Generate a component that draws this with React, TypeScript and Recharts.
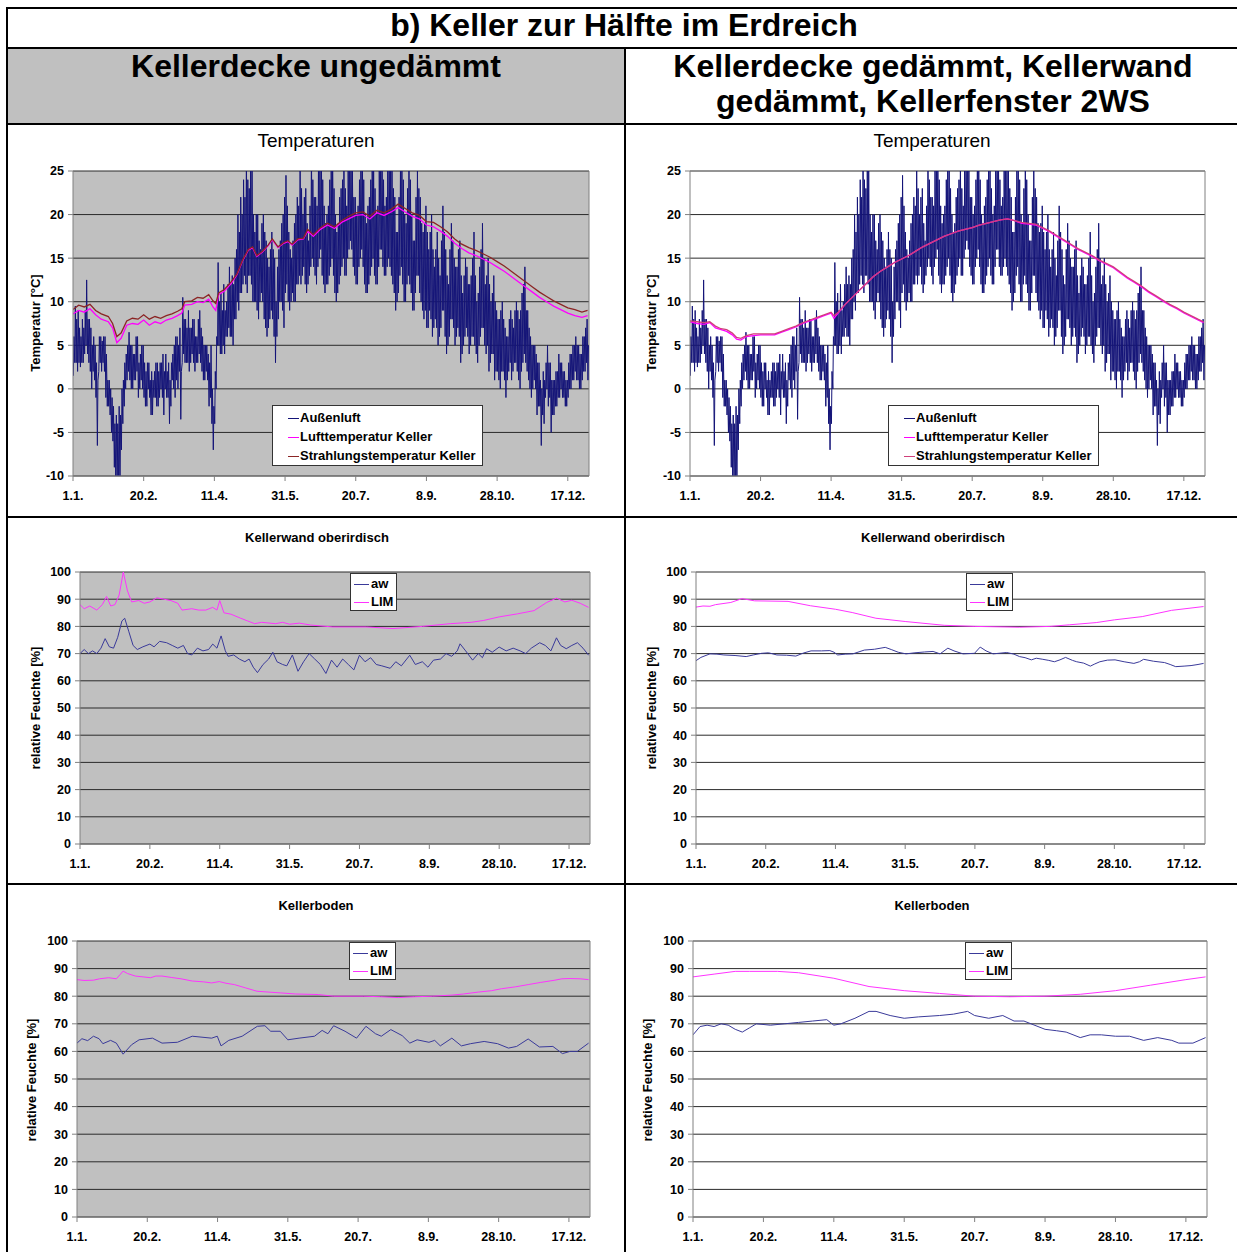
import React from 'react';
import { LineChart, Line, XAxis, YAxis, CartesianGrid, ReferenceLine } from 'recharts';

// ---------- tick labels ----------
const X_TICKS = [0, 50, 100, 150, 200, 250, 300, 350];
const X_LABELS = ['1.1.', '20.2.', '11.4.', '31.5.', '20.7.', '8.9.', '28.10.', '17.12.'];
const T_TICKS = [-10, -5, 0, 5, 10, 15, 20, 25];
const RH_TICKS = [0, 10, 20, 30, 40, 50, 60, 70, 80, 90, 100];

// ---------- outdoor air temperature: daily minimum / maximum (day 0 = 1.1.) ----------
const AUSSEN_MIN = [
  1.5, 3, 3, 2, 3, 2.5, 3, 3, 4, 5,
  4, 3, 2, 0, 2, 1, -1, -6.5, 2, 3,
  2, 3, 2, -1, -2, -2, -3, -5, -6, -9,
  -10, -12, -11, -12, -7, -4, -2, 0, 1, 2,
  1, 0, 0, 1, 1, 2, -1, 0, 1, 0,
  -1, -2, -2, 0, -1, -3, -3, -1, -1, -2,
  -2, -1, 0, -1, -3, 0, -1, -1, -4, -2,
  1, 0, -1, 1, 0, 2, -3.5, 3, 4, 3,
  3, 3, 2, 3, 4, 3, 2, 3, 3, 4,
  3, 2, 1, 1, 2, 1, -2, -1, -4, -7,
  -4, 0, 5, 5, 4, 4, 5, 4, 6, 6,
  7, 6, 6, 5, 8, 8, 10, 9, 11, 11,
  12, 13, 12, 11, 13, 13, 12, 10, 10, 10,
  9, 8, 10, 11, 10, 8, 7, 6, 7, 8,
  9, 8, 6, 3, 6, 8, 10, 10, 9, 7,
  11, 12, 10, 9, 10, 11, 10, 10, 12, 12,
  13, 12, 13, 14, 12, 11, 12, 13, 14, 15,
  14, 13, 12, 14, 15, 16, 13, 12, 11, 12,
  12, 13, 14, 15, 13, 11, 10, 11, 12, 13,
  14, 15, 13, 13, 15, 16, 17, 16, 14, 13,
  12, 12, 14, 15, 16, 14, 12, 11, 11, 12,
  13, 14, 15, 13, 12, 12, 14, 16, 16, 14,
  13, 13, 14, 15, 14, 13, 12, 11, 9, 10,
  11, 13, 14, 12, 10, 10, 12, 13, 12, 11,
  9, 9, 11, 13, 13, 11, 10, 9, 8, 9,
  7, 7, 9, 8, 6, 7, 8, 7, 5, 6,
  7, 9, 9, 6, 4, 5, 6, 8, 8, 7,
  5, 6, 7, 6, 3, 4, 5, 6, 7, 6,
  4, 5, 6, 6, 5, 4, 3, 5, 6, 7,
  7, 5, 4, 5, 2, 3, 4, 4, 1, 2,
  2, 1, 0, 2, 2, 1, -1, 1, 2, 3,
  1, 2, 3, 3, 2, 1, 0, 2, 3, 4,
  3, 2, 1, 0, -1, 0, 1, 0, -3, -2,
  -2, -6.5, -3, -4, -1, 0, -2, -1, -5, -3,
  -3, -2, -2, -1, -1, 0, -1, -1, -2, -2,
  -1, 0, 0, 1, 1, 2, 1, 1, 0, 0,
  1, 2, 2, 3, 1,
];
const AUSSEN_MAX = [
  6, 9.5, 8, 9, 7, 6, 8, 7, 9, 12.5,
  8, 8, 7, 5, 6, 5, 3, 1, 6, 6,
  5.5, 6, 6, 4, 1, 1, 0, -1, -2, -4,
  -3, -4, -2, -3, 0, 1, 3, 4, 5, 6.5,
  5, 5, 4, 4, 6, 6, 3, 4, 5, 5,
  3, 2, 3, 3, 1, 2, 1, 2, 3, 3,
  2, 3, 3, 4, 2, 4, 2, 3, 1, 3,
  4, 5, 6, 6, 5, 7, 2, 10.5, 8, 8,
  7, 9, 7, 7, 8, 8, 6, 6, 8, 9,
  7, 6, 5, 5, 5, 4, 3, 5, 0, -2,
  2, 6, 14.5, 10, 11, 9, 12, 9, 10, 12,
  14, 12, 13, 12, 15, 16, 20, 18, 22, 20,
  24, 22, 27, 24, 23, 25, 26, 20, 18, 20,
  20, 17, 16, 19, 20, 18, 17, 15, 14, 16,
  18, 16, 15, 10, 14, 16, 17, 19, 20, 22,
  24.5, 21, 18, 16, 15, 17, 19, 20, 22, 21,
  26, 23, 20, 22, 23, 19, 17, 21, 27, 24,
  22, 22, 21, 26, 25, 28, 24, 21, 19, 20,
  21, 24, 25, 27, 23, 20, 18, 19, 22, 23,
  24, 26, 23, 21, 25, 28, 27, 25, 22, 22,
  20, 21, 24, 27, 26, 24, 20, 19, 21, 22,
  24, 26, 25, 23, 20, 21, 25, 28, 26, 24,
  21, 22, 25, 27, 26, 25, 23, 22, 18, 18,
  22, 26, 25, 24, 20, 19, 23, 27, 24, 20,
  17, 17, 22, 25, 23, 22, 19, 18, 19, 21,
  18, 16, 18, 20, 16, 14, 16, 18, 15, 13,
  17, 21, 18, 16, 13, 12, 16, 19, 17, 15,
  14, 14, 16, 17, 13, 11, 13, 15, 14, 12,
  12, 13, 15, 18, 13, 10, 11, 14, 16, 19,
  15, 12, 13, 15, 12, 10, 11, 13, 10, 9,
  8, 8, 9, 10, 8, 7, 6, 6, 8, 9,
  8, 7, 9, 10, 9, 8, 9, 11, 12, 14,
  9, 9, 7, 6, 5, 5, 5, 4, 3, 3,
  1, 0, 2, 1, 3, 5, 3, 3, 1, 1,
  1, 2, 2, 4, 3, 3, 2, 2, 1, 1,
  3, 4, 4, 5, 5, 6, 5, 5, 4, 4,
  6, 6, 7, 8, 5,
];

// ---------- Kellerdecke ungedämmt: cellar temperatures [day, °C] ----------
const UNG_LUFT: [number, number][] = [
  [0, 8.6], [4, 9], [8, 8.8], [12, 9.2], [16, 8.5], [20, 8], [25, 7.7], [28, 7], [31, 5.3], [34, 5.8],
  [38, 7.3], [42, 7.5], [46, 7.4], [50, 7.9], [54, 7.3], [58, 7.7], [62, 7.5], [66, 7.9], [70, 8.1], [74, 8.4],
  [77, 8.7], [79, 9.6], [84, 9.7], [88, 10], [92, 9.9], [96, 10.3], [99, 9.4], [101, 9], [103, 10.8], [107, 11.2],
  [112, 12.1], [116, 13.1], [120, 14.7], [124, 15.9], [127, 16.2], [130, 15.2], [134, 15.7], [138, 16.4], [141, 17.1], [145, 16.2],
  [149, 16.7], [152, 16.9], [155, 16.5], [159, 17.1], [163, 17.2], [166, 18.1], [170, 17.5], [175, 18.3], [180, 18.8], [185, 18.4],
  [190, 19.1], [195, 19.5], [200, 19.9], [205, 20], [210, 19.5], [215, 20.2], [220, 19.9], [225, 20.3], [230, 20.8], [235, 20.3],
  [240, 19.8], [245, 19.5], [250, 18.8], [255, 18.6], [260, 18.1], [265, 17.5], [270, 16.7], [275, 16.1], [280, 15.6], [285, 15.3],
  [290, 14.9], [295, 14.5], [300, 14], [305, 13.5], [310, 12.9], [315, 12.3], [320, 11.7], [325, 11.1], [330, 10.5], [335, 10],
  [340, 9.5], [345, 9.1], [350, 8.7], [355, 8.4], [360, 8.2], [364, 8.4],
];
const UNG_STRAHL: [number, number][] = [
  [0, 9.1], [4, 9.6], [8, 9.4], [12, 9.7], [16, 9], [20, 8.6], [25, 8.3], [28, 7.5], [31, 6], [34, 6.4],
  [38, 7.8], [42, 8.1], [46, 8], [50, 8.5], [54, 8], [58, 8.3], [62, 8.1], [66, 8.4], [70, 8.6], [74, 8.9],
  [77, 9.2], [79, 10], [84, 10.1], [88, 10.5], [92, 10.4], [96, 10.8], [99, 10.1], [101, 9.8], [103, 11], [107, 11.4],
  [112, 12.3], [116, 13.2], [120, 14.8], [124, 16], [127, 16.3], [130, 15.3], [134, 15.8], [138, 16.5], [141, 17.2], [145, 16.3],
  [149, 16.8], [152, 17], [155, 16.6], [159, 17.2], [163, 17.3], [166, 18.3], [170, 17.7], [175, 18.5], [180, 19], [185, 18.6],
  [190, 19.3], [195, 19.8], [200, 20.2], [205, 20.3], [210, 19.8], [215, 20.5], [220, 20.2], [225, 20.6], [230, 21.2], [235, 20.7],
  [240, 20.2], [245, 19.9], [250, 19.2], [255, 19.1], [260, 18.6], [265, 18], [270, 17.2], [275, 16.6], [280, 16.2], [285, 15.9],
  [290, 15.5], [295, 15.1], [300, 14.6], [305, 14.1], [310, 13.5], [315, 12.9], [320, 12.3], [325, 11.7], [330, 11.1], [335, 10.6],
  [340, 10.1], [345, 9.7], [350, 9.3], [355, 9.1], [360, 8.8], [364, 9],
];

// ---------- gedämmt: cellar temperatures [day, °C] ----------
const GED_LUFT: [number, number][] = [
  [0, 7.7], [5, 7.5], [10, 7.4], [14, 7.6], [18, 7], [22, 6.8], [26, 6.6], [30, 6.2], [33, 5.7], [36, 5.6],
  [40, 6], [45, 6.1], [50, 6.2], [55, 6.2], [60, 6.2], [65, 6.5], [70, 6.8], [75, 7.1], [80, 7.5], [85, 7.8],
  [90, 8.1], [95, 8.4], [100, 8.7], [102, 8.1], [105, 8.7], [110, 9.7], [115, 10.5], [120, 11.3], [125, 12.1], [130, 12.9],
  [135, 13.5], [140, 14], [145, 14.5], [150, 14.9], [155, 15.3], [160, 15.8], [165, 16.3], [170, 16.7], [175, 17.1], [180, 17.5],
  [185, 17.8], [190, 18.1], [195, 18.3], [200, 18.5], [205, 18.8], [210, 19], [215, 19.2], [220, 19.4], [225, 19.5], [230, 19.3],
  [235, 19], [240, 18.9], [245, 18.8], [250, 18.4], [255, 18], [260, 17.5], [265, 17], [270, 16.5], [275, 16], [280, 15.6],
  [285, 15.2], [290, 14.7], [295, 14.3], [300, 13.9], [305, 13.3], [310, 12.7], [315, 12.2], [320, 11.7], [325, 11.1], [330, 10.6],
  [335, 10.1], [340, 9.6], [345, 9.2], [350, 8.7], [355, 8.3], [360, 7.9], [364, 7.6],
];
const GED_STRAHL: [number, number][] = [
  [0, 7.8], [5, 7.7], [10, 7.6], [14, 7.7], [18, 7.2], [22, 6.9], [26, 6.8], [30, 6.4], [33, 5.9], [36, 5.8],
  [40, 6.1], [45, 6.3], [50, 6.3], [55, 6.3], [60, 6.3], [65, 6.6], [70, 6.9], [75, 7.2], [80, 7.6], [85, 7.9],
  [90, 8.2], [95, 8.5], [100, 8.8], [102, 8.4], [105, 8.8], [110, 9.7], [115, 10.5], [120, 11.3], [125, 12.1], [130, 12.9],
  [135, 13.5], [140, 14], [145, 14.5], [150, 14.9], [155, 15.3], [160, 15.8], [165, 16.3], [170, 16.7], [175, 17.1], [180, 17.5],
  [185, 17.8], [190, 18.1], [195, 18.3], [200, 18.5], [205, 18.8], [210, 19], [215, 19.2], [220, 19.4], [225, 19.5], [230, 19.3],
  [235, 19.1], [240, 19], [245, 18.9], [250, 18.5], [255, 18.1], [260, 17.6], [265, 17.1], [270, 16.6], [275, 16.1], [280, 15.7],
  [285, 15.3], [290, 14.8], [295, 14.4], [300, 14], [305, 13.4], [310, 12.8], [315, 12.3], [320, 11.8], [325, 11.2], [330, 10.7],
  [335, 10.2], [340, 9.7], [345, 9.3], [350, 8.8], [355, 8.4], [360, 8], [364, 7.7],
];

// ---------- Kellerwand oberirdisch, ungedämmt [day, %] ----------
const WAND_UNG_AW: [number, number][] = [
  [0, 70], [3, 71.5], [6, 70], [9, 71], [12, 70], [15, 72], [18, 75.5], [21, 72.5], [24, 72], [27, 76],
  [30, 82], [32, 83], [35, 78], [38, 73], [41, 71.5], [45, 72.5], [50, 73.5], [53, 72.5], [57, 74.5], [62, 74],
  [66, 73], [70, 72], [74, 73], [77, 70], [80, 69.5], [84, 72], [88, 71], [92, 71.5], [95, 73.5], [98, 72],
  [101, 76.5], [104, 71], [106, 69], [110, 69.5], [114, 68], [118, 67], [121, 68], [124, 65], [127, 63], [131, 66],
  [135, 68], [138, 70.5], [141, 67], [145, 66], [148, 65.5], [152, 69.5], [156, 63.5], [160, 67], [164, 70], [168, 68],
  [172, 66], [176, 62.7], [180, 67.6], [184, 65], [188, 68], [192, 66], [196, 64], [200, 69.4], [204, 67], [208, 68.5],
  [212, 66], [216, 65.5], [222, 64.6], [226, 67], [230, 65.5], [236, 69.4], [240, 66], [245, 67], [249, 65], [253, 67.6],
  [258, 68], [262, 70], [266, 69], [270, 71], [272, 73.6], [276, 71], [281, 67.6], [285, 70], [288, 68.5], [291, 71.8],
  [295, 70.5], [300, 72.4], [305, 71], [310, 72], [315, 71], [319, 70], [323, 72], [329, 74], [333, 73], [337, 71],
  [341, 75.8], [344, 73], [348, 71.8], [352, 73], [356, 74], [360, 72], [364, 69.4],
];
const WAND_UNG_LIM: [number, number][] = [
  [0, 88], [3, 86.5], [7, 87.5], [12, 86], [16, 88], [19, 91], [22, 87.5], [25, 88], [28, 91.5], [31, 100],
  [34, 93], [37, 89], [42, 89.5], [46, 88.5], [50, 89], [55, 90.5], [60, 90], [65, 89.5], [70, 88.5], [73, 86],
  [80, 86.5], [85, 86], [90, 86], [95, 87], [98, 86], [100, 89.5], [103, 85], [108, 84.5], [115, 83], [120, 82],
  [125, 81], [130, 81.5], [140, 81], [145, 81.5], [150, 80.8], [157, 81.2], [165, 80.5], [181, 79.8], [205, 79.8], [224, 79.2],
  [245, 80], [265, 81], [280, 81.5], [289, 82.2], [300, 83.5], [313, 84.6], [325, 85.8], [334, 88.8], [341, 90.4], [347, 89],
  [352, 89.6], [358, 88.5], [364, 87],
];

// ---------- Kellerwand oberirdisch, gedämmt [day, %] ----------
const WAND_GED_AW: [number, number][] = [
  [0, 67.4], [3.5, 68.6], [10, 69.9], [15, 69.8], [20, 69.5], [28, 69.3], [36, 68.9], [41, 69.5], [47, 70.1], [52, 70.3],
  [58, 69.5], [65, 69.4], [71.6, 69.1], [77, 70.2], [82.5, 71], [90, 71], [96, 71.1], [99, 70.5], [101.6, 69.5], [107, 69.8],
  [112.5, 69.9], [120.7, 71.3], [128, 71.6], [135.7, 72.3], [140, 71.5], [145, 70.5], [150.6, 69.9], [157, 70.3], [164, 70.6], [170, 70.8],
  [175, 69.9], [180.6, 72], [185, 71], [191.5, 69.9], [199.7, 70.1], [203.8, 72.4], [208, 71], [213, 69.9], [222.8, 70.4], [228, 69.8],
  [232, 68.9], [236, 68.5], [240.5, 67.7], [244, 68.3], [248.7, 67.9], [253, 67.5], [257, 67], [261, 67.7], [265, 68.6], [270, 67.5],
  [273, 67], [278, 66.5], [282.8, 65.4], [286, 66.2], [289.6, 67], [295, 67.6], [300.5, 67.7], [307, 67], [314, 66.4], [318, 67],
  [321, 67.9], [328, 67.2], [336, 66.7], [340, 66], [344, 65.2], [350, 65.4], [355, 65.6], [360, 66], [364, 66.4],
];
const WAND_GED_LIM: [number, number][] = [
  [0, 87.1], [5, 87.5], [10, 87.4], [14, 88], [25, 88.8], [33, 90.2], [42, 89.4], [66, 89.2], [82, 87.6], [100, 86.3],
  [112, 85.1], [129, 83], [150, 81.8], [178, 80.4], [200, 80], [232, 79.7], [254, 80], [268, 80.6], [287, 81.4], [300, 82.4],
  [320, 83.6], [341, 85.9], [364, 87.3],
];

// ---------- Kellerboden, ungedämmt [day, %] ----------
const BODEN_UNG_AW: [number, number][] = [
  [0, 63], [3.5, 64.6], [7.6, 63.9], [11.7, 65.5], [15.7, 64.6], [18.4, 62.8], [23.9, 64], [28, 63], [32.8, 59], [38.8, 62.4],
  [44.2, 64.2], [53.7, 64.8], [60.5, 63], [71.4, 63.3], [82, 65.5], [95.8, 64.8], [99.8, 65.5], [102.5, 62], [108, 64], [117.5, 65.5],
  [128.3, 69.1], [133.7, 69.3], [137.8, 67.3], [144.6, 67.3], [150, 64.2], [158, 64.8], [169, 65.5], [174.4, 67.6], [178.5, 66.4], [182.6, 69.3],
  [190.7, 67.3], [198.9, 64.8], [205.6, 69.1], [212.4, 66.4], [216.5, 65.5], [223.3, 67.9], [231.4, 65.7], [236.8, 63], [242, 64.2], [250.4, 63.3],
  [254.5, 64], [258.5, 62], [266.7, 64.8], [273.5, 62], [280, 62.8], [289.7, 63.6], [299.2, 62.8], [307, 61.2], [312.8, 61.8], [321, 64.5],
  [329, 61.6], [338.6, 61.8], [345.4, 59.2], [350.8, 60], [356, 60], [364, 63],
];
const BODEN_UNG_LIM: [number, number][] = [
  [0, 86], [5, 85.7], [11.7, 85.8], [16, 86.3], [22.5, 86.7], [28, 86.3], [31, 88], [32.8, 89.1], [36, 88.2], [41.5, 87.3],
  [47, 87], [52.4, 86.7], [56, 87.3], [60.5, 87.3], [67, 86.8], [74, 86.3], [82, 85.5], [90, 85.2], [95.8, 84.8], [101.2, 85.3],
  [106, 84.7], [112, 84.2], [120, 83], [128, 81.8], [136, 81.5], [144.6, 81.2], [155.5, 80.8], [171.7, 80.6], [182.6, 80], [204, 80],
  [216, 79.8], [228.7, 79.5], [240, 79.8], [253, 80], [266.7, 80.4], [275, 80.8], [285.7, 81.5], [295, 82], [302, 82.7], [312, 83.4],
  [321, 84.2], [330, 85], [340, 85.8], [345, 86.3], [350.8, 86.4], [358, 86.3], [364, 86],
];

// ---------- Kellerboden, gedämmt [day, %] ----------
const BODEN_GED_AW: [number, number][] = [
  [0, 66], [5, 69], [10, 69.5], [15, 69], [20, 70], [25, 69.5], [30, 68], [35, 67], [40, 68.5], [45, 70],
  [55, 69.5], [65, 70], [75, 70.5], [85, 71], [95, 71.5], [100, 69.5], [105, 70], [115, 72], [125, 74.5], [130, 74.5],
  [140, 73], [150, 72], [160, 72.5], [175, 73], [185, 73.5], [195, 74.5], [200, 73], [210, 72], [220, 73], [228, 71],
  [235, 71], [245, 69], [250, 68], [258, 67.5], [265, 67], [275, 65], [282, 66], [290, 66], [300, 65.5], [310, 65.5],
  [320, 64], [330, 65], [340, 64], [345, 63], [355, 63], [364, 65],
];
const BODEN_GED_LIM: [number, number][] = [
  [0, 87], [15, 88], [30, 89], [40, 89], [60, 89], [75, 88.5], [100, 86.5], [125, 83.5], [150, 82], [175, 81],
  [200, 80], [225, 79.8], [250, 80], [275, 80.7], [300, 82], [325, 84], [350, 86], [364, 87],
];

// ---------- helpers ----------
const FONT = '"Liberation Sans", Arial, Helvetica, sans-serif';
const NAVY = '#141478';
const AW_BLUE = '#3A3A9A';
const MAGENTA = '#FF00FF';
const LIM_PINK = '#FF33FF';
const STRAHL_L = '#8B2525';
const STRAHL_R = '#D0407A';

const toPts = (arr: [number, number][]) => arr.map(([d, v]) => ({ d, v }));
const outdoorPts = AUSSEN_MIN.flatMap((mn, i) => [
  { d: i + 0.25, v: mn },
  { d: i + 0.65, v: AUSSEN_MAX[i] },
]);
const xLabel = (v: number) => X_LABELS[X_TICKS.indexOf(v)] ?? '';

type S = { name: string; data: { d: number; v: number }[]; color: string; w?: number };

function Chart(props: {
  left: number; top: number; width: number; height: number;
  margin: { top: number; right: number; bottom: number; left: number };
  yDomain: [number, number]; yTicks: number[]; bg?: string; series: S[];
}) {
  const { left, top, width, height, margin, yDomain, yTicks, bg, series } = props;
  const tickStyle = { fontSize: 12.5, fontWeight: 700, fill: '#000', fontFamily: FONT };
  return (
    <div style={{ position: 'absolute', left, top }}>
      <LineChart width={width} height={height} margin={margin}>
        <CartesianGrid vertical={false} stroke="#2a2a2a" fill={bg || '#FFFFFF'} fillOpacity={1} />
        <XAxis
          type="number" dataKey="d" domain={[0, 365]} ticks={X_TICKS} interval={0}
          tickFormatter={xLabel} allowDataOverflow height={30}
          tick={tickStyle} tickSize={5} tickMargin={10} stroke="#808080"
        />
        <YAxis
          type="number" domain={yDomain} ticks={yTicks} interval={0} allowDataOverflow width={40}
          tick={tickStyle} tickSize={5} tickMargin={4} stroke="#808080"
        />
        <ReferenceLine x={365} stroke="#808080" ifOverflow="visible" />
        {series.map((s) => (
          <Line
            key={s.name} name={s.name} data={s.data} dataKey="v" type="linear"
            stroke={s.color} strokeWidth={s.w ?? 1} dot={false} isAnimationActive={false}
          />
        ))}
      </LineChart>
    </div>
  );
}

function LegendBox(props: { left: number; top: number; width: number; items: { name: string; color: string }[]; rowH: number; lineX: number; lineW: number; textX: number; padTop: number }) {
  const { left, top, width, items, rowH, lineX, lineW, textX, padTop } = props;
  return (
    <div style={{
      position: 'absolute', left, top, width, height: padTop * 2 + rowH * items.length - 4,
      background: '#fff', border: '1px solid #333', boxSizing: 'border-box',
    }}>
      {items.map((it, i) => (
        <div key={it.name} style={{ position: 'absolute', left: 0, top: padTop + i * rowH - 2, height: rowH, width: width - 2 }}>
          <div style={{ position: 'absolute', left: lineX, top: rowH / 2, width: lineW, height: 1, background: it.color }} />
          <div style={{ position: 'absolute', left: textX, top: 0, lineHeight: rowH + 'px', fontSize: 13, fontWeight: 700, color: '#000', whiteSpace: 'nowrap' }}>{it.name}</div>
        </div>
      ))}
    </div>
  );
}

function YLabel(props: { x: number; y: number; text: string }) {
  return (
    <div style={{
      position: 'absolute', left: props.x - 100, top: props.y - 8, width: 200, height: 16, lineHeight: '16px',
      textAlign: 'center', transform: 'rotate(-90deg)', fontSize: 13, fontWeight: 700, color: '#000', whiteSpace: 'nowrap',
    }}>{props.text}</div>
  );
}

function CenterText(props: { cx: number; cy: number; text: string; size: number; bold?: boolean }) {
  return (
    <div style={{
      position: 'absolute', left: props.cx - 300, top: props.cy - 15, width: 600, height: 30, lineHeight: '30px',
      textAlign: 'center', fontSize: props.size, fontWeight: props.bold ? 700 : 400, color: '#000', whiteSpace: 'nowrap',
    }}>{props.text}</div>
  );
}

const hLine = (top: number) => ({ position: 'absolute' as const, left: 6, top, width: 1240, height: 2, background: '#000' });

export default function App() {
  const tempLegendL = [
    { name: 'Außenluft', color: NAVY },
    { name: 'Lufttemperatur Keller', color: MAGENTA },
    { name: 'Strahlungstemperatur Keller', color: STRAHL_L },
  ];
  const tempLegendR = [
    { name: 'Außenluft', color: NAVY },
    { name: 'Lufttemperatur Keller', color: MAGENTA },
    { name: 'Strahlungstemperatur Keller', color: STRAHL_R },
  ];
  const rhLegend = [
    { name: 'aw', color: AW_BLUE },
    { name: 'LIM', color: LIM_PINK },
  ];

  return (
    <div style={{ position: 'absolute', left: 0, top: 0, width: 1237, height: 1252, overflow: 'hidden', background: '#fff', fontFamily: FONT }}>
      {/* header gray cell */}
      <div style={{ position: 'absolute', left: 7, top: 48, width: 618, height: 76, background: '#C0C0C0' }} />

      {/* table lines */}
      <div style={hLine(7)} />
      <div style={hLine(47)} />
      <div style={hLine(123)} />
      <div style={hLine(516)} />
      <div style={hLine(883)} />
      <div style={{ position: 'absolute', left: 6, top: 7, width: 2, height: 1260, background: '#000' }} />
      <div style={{ position: 'absolute', left: 624, top: 48, width: 2, height: 1220, background: '#000' }} />

      {/* header texts */}
      <div style={{ position: 'absolute', left: 6, top: 8, width: 1236, height: 38, lineHeight: '34px', textAlign: 'center', fontSize: 32, fontWeight: 700 }}>
        b) Keller zur Hälfte im Erdreich
      </div>
      <div style={{ position: 'absolute', left: 8, top: 49, width: 616, lineHeight: '35px', textAlign: 'center', fontSize: 32, fontWeight: 700 }}>
        Kellerdecke ungedämmt
      </div>
      <div style={{ position: 'absolute', left: 626, top: 49, width: 614, lineHeight: '35px', textAlign: 'center', fontSize: 32, fontWeight: 700 }}>
        Kellerdecke gedämmt, Kellerwand<br />gedämmt, Kellerfenster 2WS
      </div>

      {/* ---------- row 1: temperatures ---------- */}
      <CenterText cx={316} cy={141} text="Temperaturen" size={19} />
      <CenterText cx={932} cy={141} text="Temperaturen" size={19} />
      <Chart
        left={10} top={126} width={610} height={388}
        margin={{ top: 45, right: 31, bottom: 8, left: 23 }}
        yDomain={[-10, 25]} yTicks={T_TICKS} bg="#C0C0C0"
        series={[
          { name: 'Außenluft', data: outdoorPts, color: NAVY },
          { name: 'Lufttemperatur Keller', data: toPts(UNG_LUFT), color: MAGENTA, w: 1.3 },
          { name: 'Strahlungstemperatur Keller', data: toPts(UNG_STRAHL), color: STRAHL_L, w: 1.3 },
        ]}
      />
      <Chart
        left={628} top={126} width={605} height={388}
        margin={{ top: 45, right: 28, bottom: 8, left: 22 }}
        yDomain={[-10, 25]} yTicks={T_TICKS}
        series={[
          { name: 'Außenluft', data: outdoorPts, color: NAVY },
          { name: 'Lufttemperatur Keller', data: toPts(GED_LUFT), color: MAGENTA, w: 1.3 },
          { name: 'Strahlungstemperatur Keller', data: toPts(GED_STRAHL), color: STRAHL_R, w: 1.3 },
        ]}
      />
      <YLabel x={36} y={323} text="Temperatur [°C]" />
      <YLabel x={652} y={323} text="Temperatur [°C]" />
      <LegendBox left={272} top={405} width={211} items={tempLegendL} rowH={19} lineX={15} lineW={11} textX={27} padTop={4} />
      <LegendBox left={888} top={405} width={211} items={tempLegendR} rowH={19} lineX={15} lineW={11} textX={27} padTop={4} />

      {/* ---------- row 2: Kellerwand oberirdisch ---------- */}
      <CenterText cx={317} cy={538} text="Kellerwand oberirdisch" size={13} bold />
      <CenterText cx={933} cy={538} text="Kellerwand oberirdisch" size={13} bold />
      <Chart
        left={10} top={519} width={610} height={363}
        margin={{ top: 53, right: 30, bottom: 8, left: 30 }}
        yDomain={[0, 100]} yTicks={RH_TICKS} bg="#C0C0C0"
        series={[
          { name: 'aw', data: toPts(WAND_UNG_AW), color: AW_BLUE },
          { name: 'LIM', data: toPts(WAND_UNG_LIM), color: LIM_PINK },
        ]}
      />
      <Chart
        left={628} top={519} width={605} height={363}
        margin={{ top: 53, right: 28, bottom: 8, left: 28 }}
        yDomain={[0, 100]} yTicks={RH_TICKS}
        series={[
          { name: 'aw', data: toPts(WAND_GED_AW), color: AW_BLUE },
          { name: 'LIM', data: toPts(WAND_GED_LIM), color: LIM_PINK },
        ]}
      />
      <YLabel x={36} y={708} text="relative Feuchte [%]" />
      <YLabel x={652} y={708} text="relative Feuchte [%]" />
      <LegendBox left={350} top={573} width={47} items={rhLegend} rowH={18} lineX={3} lineW={15} textX={20} padTop={3} />
      <LegendBox left={966} top={573} width={47} items={rhLegend} rowH={18} lineX={3} lineW={15} textX={20} padTop={3} />

      {/* ---------- row 3: Kellerboden ---------- */}
      <CenterText cx={316} cy={906} text="Kellerboden" size={13} bold />
      <CenterText cx={932} cy={906} text="Kellerboden" size={13} bold />
      <Chart
        left={10} top={886} width={610} height={366}
        margin={{ top: 55, right: 30, bottom: 5, left: 27 }}
        yDomain={[0, 100]} yTicks={RH_TICKS} bg="#C0C0C0"
        series={[
          { name: 'aw', data: toPts(BODEN_UNG_AW), color: AW_BLUE },
          { name: 'LIM', data: toPts(BODEN_UNG_LIM), color: LIM_PINK },
        ]}
      />
      <Chart
        left={628} top={886} width={605} height={366}
        margin={{ top: 55, right: 26, bottom: 5, left: 25 }}
        yDomain={[0, 100]} yTicks={RH_TICKS}
        series={[
          { name: 'aw', data: toPts(BODEN_GED_AW), color: AW_BLUE },
          { name: 'LIM', data: toPts(BODEN_GED_LIM), color: LIM_PINK },
        ]}
      />
      <YLabel x={32} y={1080} text="relative Feuchte [%]" />
      <YLabel x={648} y={1080} text="relative Feuchte [%]" />
      <LegendBox left={349} top={942} width={47} items={rhLegend} rowH={18} lineX={3} lineW={15} textX={20} padTop={3} />
      <LegendBox left={965} top={942} width={47} items={rhLegend} rowH={18} lineX={3} lineW={15} textX={20} padTop={3} />
    </div>
  );
}
